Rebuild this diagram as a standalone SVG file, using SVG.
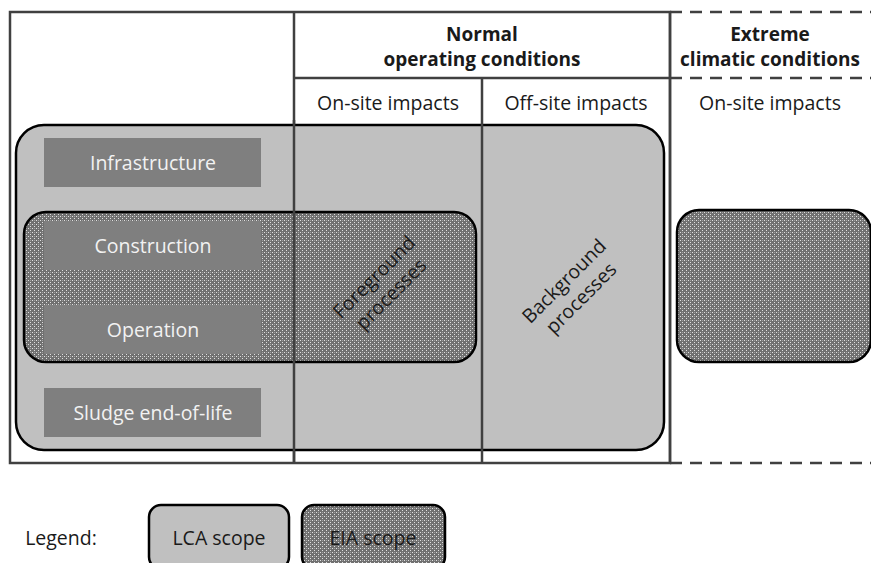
<svg xmlns="http://www.w3.org/2000/svg" width="871" height="563" viewBox="0 0 871 563">
<defs>
<pattern id="dots" width="4" height="4" patternUnits="userSpaceOnUse">
<rect width="4" height="4" fill="#707070"/>
<rect x="0" y="0" width="1" height="1" fill="#e0e0e0"/>
<rect x="2" y="2" width="1" height="1" fill="#e0e0e0"/>
<rect x="2" y="0" width="1" height="1" fill="#a0a0a0"/>
</pattern>
</defs>
<style>
.grid{stroke:#404040;stroke-width:2.5;fill:none}
.dash{stroke:#404040;stroke-width:2.5;fill:none;stroke-dasharray:12 8}
.lca{fill:#c0c0c0;stroke:#000;stroke-width:2.5}
.eia{fill:url(#dots);stroke:#000;stroke-width:2.5}
.box{fill:#7f7f7f}
.t{font-family:"Open Sans","Liberation Sans",sans-serif;font-size:19.5px;fill:#1a1a1a;text-anchor:middle}
.h{font-weight:bold;font-size:19px}
.w{fill:#f2f2f2}
</style>
<rect width="871" height="563" fill="#fff"/>
<g id="table">
<rect x="10" y="12" width="660" height="451" class="grid"/>
<line x1="294" y1="12" x2="294" y2="463" class="grid"/>
<line x1="294" y1="78" x2="670" y2="78" class="grid"/>
<line x1="670" y1="12" x2="871" y2="12" class="dash"/>
<line x1="670" y1="78" x2="871" y2="78" class="dash"/>
<line x1="670" y1="463" x2="871" y2="463" class="dash"/>
<text x="482" y="41" class="t h">Normal</text>
<text x="482" y="66" class="t h">operating  conditions</text>
<text x="770" y="41" class="t h">Extreme</text>
<text x="770" y="66" class="t h">climatic conditions</text>
<text x="388" y="110" class="t">On-site impacts</text>
<text x="576" y="110" class="t">Off-site impacts</text>
<text x="770" y="110" class="t">On-site impacts</text>
</g>
<g id="lca-scope">
<rect x="16" y="125" width="648" height="325" rx="28" class="lca"/>
</g>
<g id="infrastructure">
<rect x="44" y="138" width="217" height="49" class="box"/>
<text x="153" y="170" class="t w">Infrastructure</text>
</g>
<g id="eia-scope">
<rect x="24" y="212" width="452" height="150" rx="22" class="eia"/>
</g>
<g id="construction">
<rect x="44" y="221" width="217" height="49" class="box"/>
<text x="153" y="253" class="t w">Construction</text>
</g>
<g id="operation">
<rect x="44" y="305" width="217" height="49" class="box"/>
<text x="153" y="337" class="t w">Operation</text>
</g>
<g id="sludge">
<rect x="44" y="388" width="217" height="49" class="box"/>
<text x="153" y="420" class="t w">Sludge end-of-life</text>
</g>
<g id="foreground">
<text transform="translate(381,284) rotate(-45)" class="t"><tspan x="0" y="-3">Foreground</tspan><tspan x="0" y="21">processes</tspan></text>
</g>
<g id="background">
<text transform="translate(571,288) rotate(-45)" class="t"><tspan x="0" y="-3">Background</tspan><tspan x="0" y="21">processes</tspan></text>
</g>
<g id="extreme-eia">
<rect x="677" y="210" width="194" height="152" rx="22" class="eia"/>
</g>
<g id="connectors">
<line x1="294" y1="120" x2="294" y2="463" class="grid"/>
<line x1="482" y1="78" x2="482" y2="463" class="grid"/>
<line x1="670" y1="12" x2="670" y2="463" class="grid"/>
</g>
<g id="legend">
<text x="61" y="545" class="t">Legend:</text>
<rect x="149" y="505" width="140" height="64" rx="12" class="lca"/>
<text x="219" y="545" class="t">LCA scope</text>
<rect x="302" y="505" width="143" height="64" rx="12" class="eia"/>
<text x="373" y="545" class="t">EIA scope</text>
</g>
</svg>
